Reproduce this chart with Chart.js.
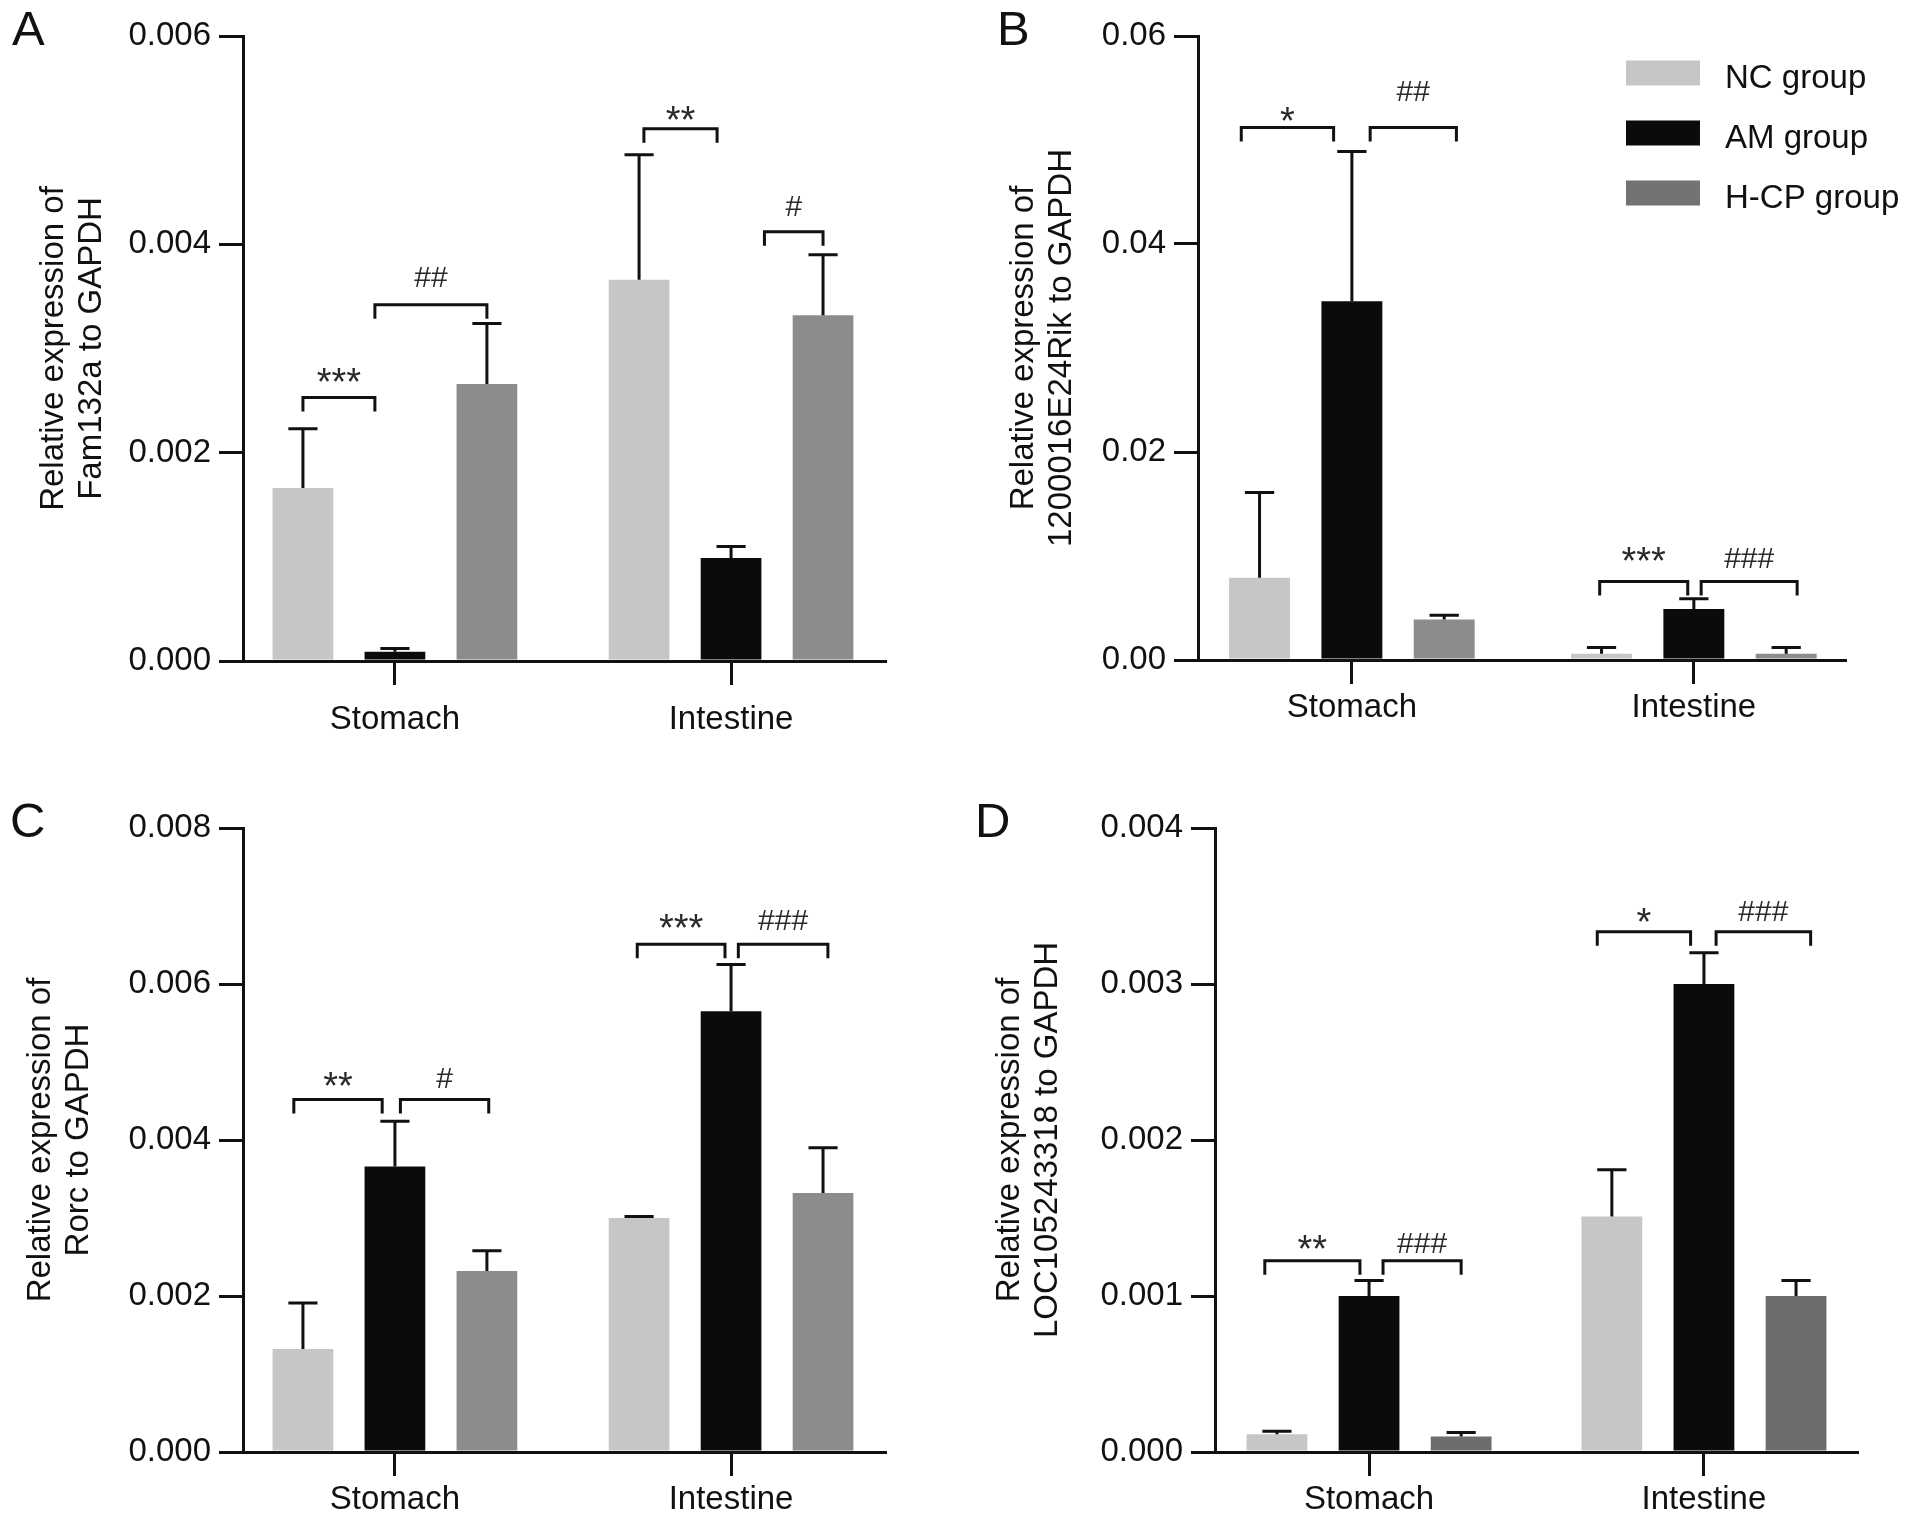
<!DOCTYPE html>
<html>
<head>
<meta charset="utf-8">
<script src="https://cdn.jsdelivr.net/npm/chart.js@4.4.1/dist/chart.umd.min.js"></script>
<style>
  body { margin: 0; background: #fff; }
  #page { position: relative; width: 1913px; height: 1526px; background: #fff; overflow: hidden;
          font-family: 'Liberation Sans', Arial, sans-serif; }
  canvas { position: absolute; }
  .tag { position: absolute; font-size: 49px; line-height: 49px; color: #111; }
</style>
</head>
<body>
<div id="page">
  <canvas id="cA" width="956" height="763" style="left:0px;top:0px"></canvas>
  <canvas id="cB" width="957" height="763" style="left:956px;top:0px"></canvas>
  <canvas id="cC" width="956" height="763" style="left:0px;top:763px"></canvas>
  <canvas id="cD" width="957" height="763" style="left:956px;top:763px"></canvas>
  <div class="tag" style="left:12px;top:4px">A</div>
  <div class="tag" style="left:997px;top:4px">B</div>
  <div class="tag" style="left:10px;top:796px">C</div>
  <div class="tag" style="left:975px;top:796px">D</div>
</div>
<script>
const categories = ['Stomach', 'Intestine'];
const groups = ['NC group', 'AM group', 'H-CP group'];

// A - Fam132a
const famNC = [0.00166, 0.00366];
const famAM = [0.00009, 0.00099];
const famHCP = [0.00266, 0.00332];
const famNCErr = [0.00057, 0.00120];
const famAMErr = [0.00003, 0.00011];
const famHCPErr = [0.00058, 0.00058];
const famTicks = ['0.000', '0.002', '0.004', '0.006'];
// category, from bar, shift, to bar, shift, bracket level, label, label level
const famSig = [
  [0, 0, 0.00, 1, -0.33, 0.00253, '***', 0.00276],
  [0, 1, -0.33, 2, 0.00, 0.00342, '##', 0.00369],
  [1, 0, 0.08, 1, -0.23, 0.00511, '**', 0.00528],
  [1, 1, 0.55, 2, 0.00, 0.00412, '#', 0.00438]
];

// B - 1200016E24Rik
const rikNC = [0.0079, 0.0006];
const rikAM = [0.0345, 0.0049];
const rikHCP = [0.0039, 0.0006];
const rikNCErr = [0.0082, 0.0006];
const rikAMErr = [0.0144, 0.0010];
const rikHCPErr = [0.0004, 0.0006];
const rikTicks = ['0.00', '0.02', '0.04', '0.06'];
const rikSig = [
  [0, 0, -0.30, 1, -0.30, 0.0512, '*', 0.0527],
  [0, 1, 0.30, 2, 0.20, 0.0512, '##', 0.0548],
  [1, 0, -0.03, 1, -0.10, 0.00754, '***', 0.01034],
  [1, 1, 0.12, 2, 0.18, 0.00754, '###', 0.00987]
];

// C - Rorc
const rorcNC = [0.00132, 0.00300];
const rorcAM = [0.00366, 0.00565];
const rorcHCP = [0.00232, 0.00332];
const rorcNCErr = [0.00059, 0.00002];
const rorcAMErr = [0.00058, 0.00060];
const rorcHCPErr = [0.00026, 0.00058];
const rorcTicks = ['0.000', '0.002', '0.004', '0.006', '0.008'];
const rorcSig = [
  [0, 0, -0.15, 1, -0.21, 0.00452, '**', 0.00480],
  [0, 1, 0.09, 2, 0.03, 0.00452, '#', 0.00480],
  [1, 0, -0.03, 1, -0.10, 0.00651, '***', 0.00683],
  [1, 1, 0.12, 2, 0.08, 0.00651, '###', 0.00683]
];

// D - LOC105243318
const locNC = [0.000113, 0.00151];
const locAM = [0.00100, 0.00300];
const locHCP = [0.00010, 0.00100];
const locNCErr = [0.00002, 0.00030];
const locAMErr = [0.00010, 0.00020];
const locHCPErr = [0.000025, 0.00010];
const locTicks = ['0.000', '0.001', '0.002', '0.003', '0.004'];
const locSig = [
  [0, 0, -0.20, 1, -0.15, 0.001226, '**', 0.001354],
  [0, 1, 0.23, 2, 0.00, 0.001226, '###', 0.001348],
  [1, 0, -0.24, 1, -0.22, 0.003335, '*', 0.00345],
  [1, 1, 0.20, 2, 0.24, 0.003335, '###', 0.003476]
];

const ncColor = '#c6c6c6';
const amColor = '#0b0b0b';
const hcpColor = '#8c8c8c';
const hcpDarkColor = '#6d6d6d';
const legendColors = [ncColor, amColor, '#737373'];

const FONT = "'Liberation Sans', Arial, sans-serif";
const INK = '#111';
Chart.defaults.font.family = FONT;
Chart.defaults.color = INK;

// error bars, significance brackets and (panel B) the legend
const sigMarks = {
  id: 'sigMarks',
  afterDatasetsDraw(chart, args, opts) {
    const ctx = chart.ctx;
    const y = chart.scales.y;
    ctx.save();
    ctx.strokeStyle = INK;
    ctx.lineWidth = 3;
    ctx.lineCap = 'butt';

    opts.errs.forEach((errs, k) => {
      chart.getDatasetMeta(k).data.forEach((bar, i) => {
        const val = chart.data.datasets[k].data[i].y;
        const yTop = y.getPixelForValue(val + errs[i]);
        const half = bar.width * 0.24;
        ctx.beginPath();
        ctx.moveTo(bar.x, bar.y);
        ctx.lineTo(bar.x, yTop);
        ctx.moveTo(bar.x - half, yTop);
        ctx.lineTo(bar.x + half, yTop);
        ctx.stroke();
      });
    });

    ctx.fillStyle = '#2a2a2a';
    ctx.textAlign = 'center';
    ctx.textBaseline = 'alphabetic';
    opts.sig.forEach(([cat, b1, s1, b2, s2, level, label, textLevel]) => {
      const e1 = chart.getDatasetMeta(b1).data[cat];
      const e2 = chart.getDatasetMeta(b2).data[cat];
      const x1 = e1.x + s1 * e1.width;
      const x2 = e2.x + s2 * e2.width;
      const yl = y.getPixelForValue(level);
      ctx.beginPath();
      ctx.moveTo(x1, yl + 14);
      ctx.lineTo(x1, yl);
      ctx.lineTo(x2, yl);
      ctx.lineTo(x2, yl + 14);
      ctx.stroke();
      const star = label.indexOf('*') >= 0;
      const size = star ? 38 : 30;
      ctx.font = size + 'px ' + FONT;
      const shift = star ? 0.57 : 0.36;
      ctx.fillText(label, (x1 + x2) / 2, y.getPixelForValue(textLevel) + shift * size);
    });

    if (opts.legend) {
      ctx.font = '33px ' + FONT;
      ctx.textAlign = 'left';
      chart.data.datasets.forEach((ds, k) => {
        const cy = 73 + k * 60;
        ctx.fillStyle = legendColors[k];
        ctx.fillRect(670, cy - 12.5, 74, 25);
        ctx.fillStyle = INK;
        ctx.fillText(ds.label, 769, cy + 15);
      });
    }
    ctx.restore();
  }
};

function panel(id, o) {
  const tickVals = o.ticks.map(Number);
  return new Chart(document.getElementById(id), {
    type: 'bar',
    data: {
      datasets: o.series.map((vals, k) => ({
        label: groups[k],
        data: vals.map((v, i) => ({ x: i, y: v })),
        backgroundColor: o.colors[k],
        borderWidth: 0,
        categoryPercentage: o.catPct,
        barPercentage: 0.66
      }))
    },
    options: {
      responsive: false,
      animation: false,
      devicePixelRatio: 1,
      layout: { padding: { left: 0, top: o.top, right: o.right, bottom: 0 } },
      plugins: {
        legend: { display: false },
        tooltip: { enabled: false },
        sigMarks: { errs: o.errs, sig: o.sig, legend: !!o.legend }
      },
      scales: {
        x: {
          type: 'linear',
          bounds: 'data',
          offset: false,
          min: o.xMin,
          max: o.xMax,
          afterBuildTicks: s => { s.ticks = categories.map((c, i) => ({ value: i })); },
          afterFit: s => { s.height = o.xHeight; },
          ticks: {
            callback: v => categories[v],
            font: { size: 33 },
            color: INK,
            padding: o.xPad,
            maxRotation: 0,
            autoSkip: false
          },
          grid: { display: true, offset: false, drawOnChartArea: false, drawTicks: true, tickLength: 24, lineWidth: 3, tickWidth: 3, tickColor: INK, color: INK },
          border: { display: true, width: 3, color: INK }
        },
        y: {
          type: 'linear',
          bounds: 'data',
          min: 0,
          max: tickVals[tickVals.length - 1],
          afterBuildTicks: s => { s.ticks = tickVals.map(v => ({ value: v })); },
          afterFit: s => { s.width = o.yWidth; },
          ticks: {
            callback: (v, i) => o.ticks[i],
            font: { size: 33 },
            color: INK,
            padding: 8
          },
          grid: { display: true, drawOnChartArea: false, drawTicks: true, tickLength: 24, lineWidth: 3, tickWidth: 3, tickColor: INK, color: INK },
          border: { display: true, width: 3, color: INK },
          title: {
            display: true,
            text: ['Relative expression of', o.gene + ' to GAPDH'],
            font: { size: 33, lineHeight: 1.15 },
            color: INK,
            padding: { top: o.titlePad, bottom: 0 }
          }
        }
      }
    },
    plugins: [sigMarks]
  });
}

panel('cA', {
  gene: 'Fam132a',
  series: [famNC, famAM, famHCP],
  errs: [famNCErr, famAMErr, famHCPErr],
  colors: [ncColor, amColor, hcpColor],
  ticks: famTicks, sig: famSig,
  xMin: -0.452, xMax: 1.458, catPct: 0.821,
  top: 36, right: 71, yWidth: 243, xHeight: 102, xPad: 15, titlePad: 35
});
panel('cB', {
  gene: '1200016E24Rik',
  series: [rikNC, rikAM, rikHCP],
  errs: [rikNCErr, rikAMErr, rikHCPErr],
  colors: [ncColor, amColor, hcpColor],
  ticks: rikTicks, sig: rikSig,
  xMin: -0.450, xMax: 1.442, catPct: 0.81,
  top: 36, right: 68, yWidth: 242, xHeight: 103, xPad: 4, titlePad: 49, legend: true
});
panel('cC', {
  gene: 'Rorc',
  series: [rorcNC, rorcAM, rorcHCP],
  errs: [rorcNCErr, rorcAMErr, rorcHCPErr],
  colors: [ncColor, amColor, hcpColor],
  ticks: rorcTicks, sig: rorcSig,
  xMin: -0.452, xMax: 1.458, catPct: 0.821,
  top: 65, right: 71, yWidth: 243, xHeight: 74, xPad: 4, titlePad: 22
});
panel('cD', {
  gene: 'LOC105243318',
  series: [locNC, locAM, locHCP],
  errs: [locNCErr, locAMErr, locHCPErr],
  colors: [ncColor, amColor, hcpDarkColor],
  ticks: locTicks, sig: locSig,
  xMin: -0.460, xMax: 1.457, catPct: 0.825,
  top: 65, right: 56, yWidth: 259, xHeight: 74, xPad: 4, titlePad: 35
});
</script>
</body>
</html>
